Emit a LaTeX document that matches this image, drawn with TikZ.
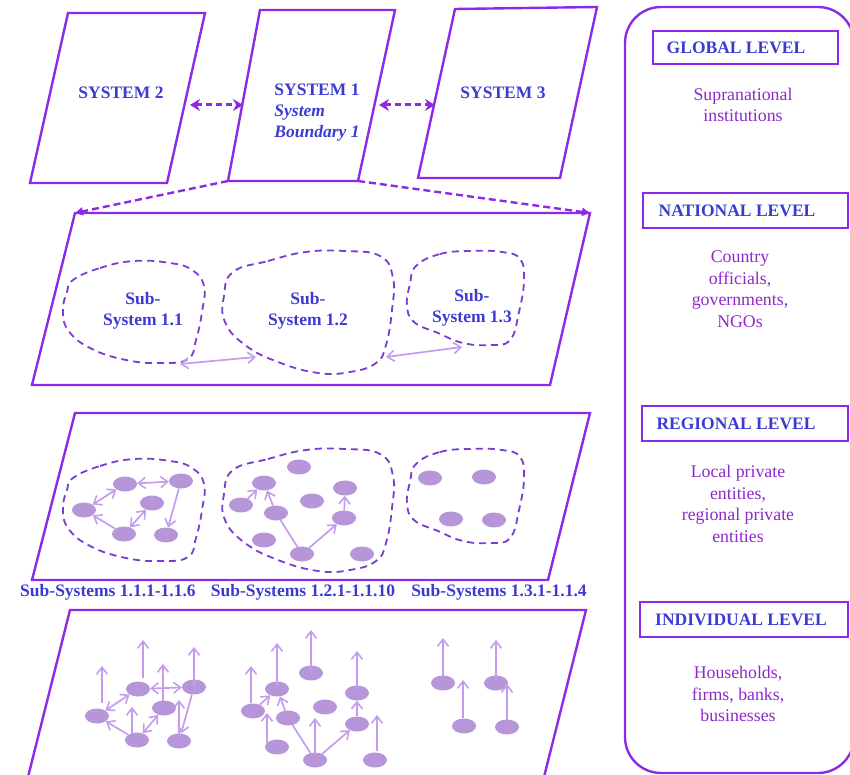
\documentclass[tikz,border=0pt]{standalone}
\usepackage{fontspec}
\setmainfont{Liberation Serif}
\usetikzlibrary{arrows.meta,shapes.geometric}
\definecolor{framec}{HTML}{8C2BE6}
\definecolor{txtblue}{HTML}{3B3BD2}
\definecolor{descc}{HTML}{8E28C8}
\definecolor{blobc}{HTML}{7A3CD2}
\definecolor{dotc}{HTML}{B696D8}
\definecolor{ltc}{HTML}{C49CEE}
\begin{document}
\begin{tikzpicture}[x=1pt,y=-1pt,
  barb/.tip={Straight Barb[length=7pt,width=11pt,line width=1.6pt]},
  panelframe/.style={draw=framec,line width=2.4pt,line join=miter},
  sysdash/.style={draw=framec,line width=3pt,dash pattern=on 6pt off 4pt},
  blobline/.style={draw=blobc,line width=1.8pt,dash pattern=on 7pt off 5pt},
  ndot/.style={ellipse,fill=dotc,minimum width=24pt,minimum height=15pt,inner sep=0pt},
  ltline/.style={draw=ltc,line width=1.7pt},
  systxt/.style={text=txtblue,font=\fontsize{17.5}{21}\selectfont\bfseries,inner sep=0pt},
  lvltxt/.style={text=txtblue,font=\fontsize{17.5}{21}\selectfont\bfseries,inner sep=0pt},
  lvlbox/.style={draw=framec,line width=1.8pt},
  desc/.style={text=descc,align=center,font=\fontsize{17.8}{21.5}\selectfont,inner sep=0pt}
]
\useasboundingbox (0,0) rectangle (850,775);

% ---------- systems ----------
\coordinate (s2a) at (68,13);  \coordinate (s2b) at (205,13);
\coordinate (s2c) at (167,183); \coordinate (s2d) at (30,183);
\coordinate (s1a) at (260,10); \coordinate (s1b) at (395,10);
\coordinate (s1c) at (358,181); \coordinate (s1d) at (228,181);
\coordinate (s3a) at (455,9);  \coordinate (s3b) at (597,7);
\coordinate (s3c) at (560,178); \coordinate (s3d) at (418,178);
\draw[panelframe] (s2a)--(s2b)--(s2c)--(s2d)--cycle;
\draw[panelframe] (s1a)--(s1b)--(s1c)--(s1d)--cycle;
\draw[panelframe] (s3a)--(s3b)--(s3c)--(s3d)--cycle;

\node[systxt] (t2) at (121,93) {SYSTEM 2};
\node[systxt,align=left] (t1) at (317,113) {SYSTEM 1\\\textit{System}\\\textit{Boundary 1}};
\node[systxt] (t3) at (503,93) {SYSTEM 3};

\coordinate (a21) at (190,105); \coordinate (a12) at (243,105);
\coordinate (a13) at (379,105); \coordinate (a31) at (435,105);
\draw[sysdash,{Stealth[length=10pt,width=12pt]}-{Stealth[length=10pt,width=12pt]}] (a21) -- (a12);
\draw[sysdash,{Stealth[length=10pt,width=12pt]}-{Stealth[length=10pt,width=12pt]}] (a13) -- (a31);

% ---------- panels ----------
\coordinate (p2a) at (75,213); \coordinate (p2b) at (590,213);
\coordinate (p2c) at (550,385); \coordinate (p2d) at (32,385);
\coordinate (p3a) at (75,413); \coordinate (p3b) at (590,413);
\coordinate (p3c) at (548,580); \coordinate (p3d) at (32,580);
\coordinate (p4a) at (70,610); \coordinate (p4b) at (586,610);
\coordinate (p4c) at (544,777); \coordinate (p4d) at (28,777);
\draw[panelframe] (p2a)--(p2b)--(p2c)--(p2d)--cycle;
\draw[panelframe] (p3a)--(p3b)--(p3c)--(p3d)--cycle;
\draw[panelframe] (p4d)--(p4a)--(p4b)--(p4c);

\draw[draw=framec,line width=2.4pt,dash pattern=on 7pt off 4pt,-{Triangle[length=8pt,width=8pt]}] (s1d) -- (p2a);
\draw[draw=framec,line width=2.4pt,dash pattern=on 7pt off 4pt,-{Triangle[length=8pt,width=8pt]}] (s1c) -- (p2b);

% ---------- dashed sub-system boundaries ----------
\foreach \dy in {0,198}{
\begin{scope}[shift={(0,\dy)}]
\draw[blobline] plot[smooth cycle,tension=0.75] coordinates {
 (73,280) (100,268) (134,261) (170,263) (192,270) (204,286) (202,312) (196,340) (188,359)
 (161,363) (126,360) (90,348) (68,330) (63,310) (67,292)};
\draw[blobline] plot[smooth cycle,tension=0.75] coordinates {
 (233,272) (268,261) (306,252) (344,251) (380,256) (393,278) (392,310) (386,345) (376,363)
 (350,372) (318,373) (278,362) (245,345) (225,322) (224,296)};
\draw[blobline] plot[smooth cycle,tension=0.75] coordinates {
 (416,266) (440,254) (470,251) (502,252) (520,259) (524,280) (519,312) (510,340)
 (490,345) (463,343) (438,333) (414,322) (407,305) (410,284)};
\end{scope}
}

\node[systxt,align=center] (ss1) at (143,311) {Sub-\\System 1.1};
\node[systxt,align=center] (ss2) at (308,311) {Sub-\\System 1.2};
\node[systxt,align=center] (ss3) at (472,308) {Sub-\\System 1.3};

\coordinate (l1a) at (180,364); \coordinate (l1b) at (256,357);
\coordinate (l2a) at (386,357); \coordinate (l2b) at (462,347);
\draw[ltline,barb-barb] (l1a) -- (l1b);
\draw[ltline,barb-barb] (l2a) -- (l2b);

% ---------- panel 3 nodes ----------
\node[ndot] (a1) at (125,484) {};
\node[ndot] (a2) at (181,481) {};
\node[ndot] (a3) at (84,510) {};
\node[ndot] (a4) at (152,503) {};
\node[ndot] (a5) at (124,534) {};
\node[ndot] (a6) at (166,535) {};
\node[ndot] (b1) at (299,467) {};
\node[ndot] (b2) at (264,483) {};
\node[ndot] (b3) at (241,505) {};
\node[ndot] (b4) at (312,501) {};
\node[ndot] (b5) at (345,488) {};
\node[ndot] (b6) at (276,513) {};
\node[ndot] (b7) at (344,518) {};
\node[ndot] (b8) at (264,540) {};
\node[ndot] (b9) at (302,554) {};
\node[ndot] (b10) at (362,554) {};
\node[ndot] (c1) at (430,478) {};
\node[ndot] (c2) at (484,477) {};
\node[ndot] (c3) at (451,519) {};
\node[ndot] (c4) at (494,520) {};

\draw[ltline,barb-barb] (a1) -- (a2);
\draw[ltline,barb-barb] (a3) -- (a1);
\draw[ltline,-barb] (a5) -- (a3);
\draw[ltline,barb-barb] (a5) -- (a4);
\draw[ltline,-barb] (a2) -- (a6);
\draw[ltline,-barb] (b3) -- (b2);
\draw[ltline] (b9) -- (b6);
\draw[ltline,-barb] (b6) -- (b2);
\draw[ltline,-barb] (b9) -- (b7);
\draw[ltline,-barb] (b7) -- (b5);

\node[systxt] (lab1) at (108,592) {Sub-Systems 1.1.1-1.1.6};
\node[systxt] (lab2) at (303,592) {Sub-Systems 1.2.1-1.1.10};
\node[systxt] (lab3) at (499,592) {Sub-Systems 1.3.1-1.1.4};

% ---------- panel 4 nodes ----------
\node[ndot] (d1) at (138,689) {};
\node[ndot] (d2) at (194,687) {};
\node[ndot] (d3) at (97,716) {};
\node[ndot] (d4) at (164,708) {};
\node[ndot] (d5) at (137,740) {};
\node[ndot] (d6) at (179,741) {};
\node[ndot] (e1) at (311,673) {};
\node[ndot] (e2) at (277,689) {};
\node[ndot] (e3) at (253,711) {};
\node[ndot] (e4) at (325,707) {};
\node[ndot] (e5) at (357,693) {};
\node[ndot] (e6) at (288,718) {};
\node[ndot] (e7) at (357,724) {};
\node[ndot] (e8) at (277,747) {};
\node[ndot] (e9) at (315,760) {};
\node[ndot] (e10) at (375,760) {};
\node[ndot] (f1) at (443,683) {};
\node[ndot] (f2) at (496,683) {};
\node[ndot] (f3) at (464,726) {};
\node[ndot] (f4) at (507,727) {};

\draw[ltline,barb-barb] (d1) -- (d2);
\draw[ltline,barb-barb] (d3) -- (d1);
\draw[ltline,-barb] (d5) -- (d3);
\draw[ltline,barb-barb] (d5) -- (d4);
\draw[ltline,-barb] (d2) -- (d6);
\draw[ltline,-barb] (e3) -- (e2);
\draw[ltline] (e9) -- (e6);
\draw[ltline,-barb] (e6) -- (e2);
\draw[ltline,-barb] (e9) -- (e7);
\draw[ltline,-barb] (e7) -- (e5);

\foreach \i/\x/\ya/\yb in {
 1/102/703/666, 2/143/678/640, 3/163/701/664, 4/194/687/647, 5/132/733/707, 6/179/738/700,
 7/251/703/666, 8/277/686/643, 9/311/670/630, 10/357/690/651, 11/267/743/713, 12/315/754/718, 13/377/751/715,
 14/443/677/638, 15/496/680/640, 16/463/718/680, 17/507/722/684}{
 \coordinate (va\i) at (\x,\ya);
 \coordinate (vb\i) at (\x,\yb);
 \draw[ltline,-barb] (va\i) -- (vb\i);
}

% ---------- right panel ----------
\draw[draw=framec,line width=2.4pt,rounded corners=36pt] (625,7) rectangle (854,773);

\coordinate (g1) at (653,31); \coordinate (g2) at (838,64);
\coordinate (n1) at (643,193); \coordinate (n2) at (848,228);
\coordinate (r1) at (642,406); \coordinate (r2) at (848,441);
\coordinate (i1) at (640,602); \coordinate (i2) at (848,637);
\draw[lvlbox] (g1) rectangle (g2);
\draw[lvlbox] (n1) rectangle (n2);
\draw[lvlbox] (r1) rectangle (r2);
\draw[lvlbox] (i1) rectangle (i2);

\node[lvltxt] (gl) at (736,48) {GLOBAL LEVEL};
\node[lvltxt] (nl) at (737,211) {NATIONAL LEVEL};
\node[lvltxt] (rl) at (736,424) {REGIONAL LEVEL};
\node[lvltxt] (il) at (741,620) {INDIVIDUAL LEVEL};

\node[desc] (gd) at (743,105) {Supranational\\institutions};
\node[desc] (nd) at (740,289) {Country\\officials,\\governments,\\NGOs};
\node[desc] (rd) at (738,504) {Local private\\entities,\\regional private\\entities};
\node[desc] (id) at (738,694) {Households,\\firms, banks,\\businesses};
\end{tikzpicture}
\end{document}
